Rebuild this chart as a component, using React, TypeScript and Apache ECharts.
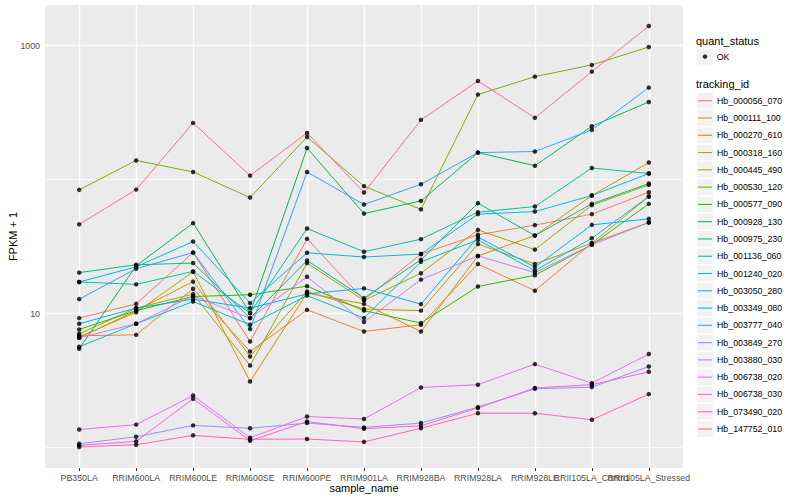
import React, { useEffect, useRef } from "react";
import * as echarts from "echarts";

const categories = [
  "PB350LA", "RRIM600LA", "RRIM600LE", "RRIM600SE", "RRIM600PE", "RRIM901LA",
  "RRIM928BA", "RRIM928LA", "RRIM928LE", "RRII105LA_Control", "RRII105LA_Stressed",
];

const trackingIds = [
  "Hb_000056_070", "Hb_000111_100", "Hb_000270_610", "Hb_000318_160", "Hb_000445_490",
  "Hb_000530_120", "Hb_000577_090", "Hb_000928_130", "Hb_000975_230", "Hb_001136_060",
  "Hb_001240_020", "Hb_003050_280", "Hb_003349_080", "Hb_003777_040", "Hb_003849_270",
  "Hb_003880_030", "Hb_006738_020", "Hb_006738_030", "Hb_073490_020", "Hb_147752_010",
];

const lineColors = [
  "#F8766D", "#EA8331", "#D89000", "#C09B00", "#A3A500", "#7CAE00", "#39B600",
  "#00BB4E", "#00BF7D", "#00C1A3", "#00BFC4", "#00BAE0", "#00B0F6", "#35A2FF",
  "#9590FF", "#C77CFF", "#E76BF3", "#FA62DB", "#FF62BC", "#FF6C91",
];

// FPKM + 1 per sample (same order as categories)
const hb_000056_070 = [9.24, 11.8, 28.5, 6.18, 36.1, 12.65, 27.8, 38.7, 45.7, 55.2, 80.5];
const hb_000111_100 = [6.82, 6.93, 15.3, 5.2, 10.65, 7.34, 8.24, 23.4, 14.8, 33.5, 74.7];
const hb_000270_610 = [6.7, 10.2, 20.5, 3.11, 14.2, 11.8, 7.34, 26.9, 38.2, 76.0, 134];
const hb_000318_160 = [6.59, 10.5, 17.3, 4.78, 14.6, 10.8, 10.5, 33.0, 23.4, 33.5, 47.8];
const hb_000445_490 = [7.06, 10.97, 13.96, 4.09, 23.8, 12.5, 20.0, 42.1, 30.0, 64.4, 91.3];
const hb_000530_120 = [83.8, 139, 114, 73.4, 208, 89.3, 59.9, 431, 587, 718, 977];
const hb_000577_090 = [7.6, 10.5, 13.4, 13.8, 16.0, 10.5, 8.48, 15.9, 19.3, 32.6, 65.9];
const hb_000928_130 = [5.45, 22.7, 47.3, 10.07, 172, 55.7, 69.3, 159, 127, 250, 380];
const hb_000975_230 = [20.2, 23.1, 23.8, 9.24, 24.9, 13.03, 25.2, 66.7, 38.2, 65.9, 93.4];
const hb_001136_060 = [17.2, 16.5, 20.6, 10.07, 43.1, 28.9, 35.9, 57.1, 62.9, 122, 111];
const hb_001240_020 = [5.64, 8.38, 12.3, 8.24, 13.6, 9.24, 24.3, 35.5, 20.9, 36.5, 74.7];
const hb_003050_280 = [17.2, 22.3, 34.5, 11.96, 28.4, 26.4, 27.8, 55.2, 57.7, 76.0, 111];
const hb_003349_080 = [8.38, 10.97, 12.8, 10.97, 14.0, 15.4, 11.75, 37.2, 22.2, 45.9, 50.9];
const hb_003777_040 = [12.8, 21.6, 28.5, 7.65, 114, 65.1, 92.4, 159, 162, 235, 486];
const hb_003849_270 = [1.065, 1.2, 1.46, 1.39, 1.52, 1.41, 1.52, 2.0, 2.74, 2.82, 4.02];
const hb_003880_030 = [6.59, 8.38, 13.55, 9.24, 18.8, 8.63, 17.9, 26.9, 20.2, 32.6, 47.8];
const hb_006738_020 = [1.36, 1.48, 2.44, 1.18, 1.7, 1.63, 2.8, 2.94, 4.19, 3.02, 4.98];
const hb_006738_030 = [1.035, 1.11, 2.31, 1.12, 1.56, 1.38, 1.45, 1.97, 2.78, 2.94, 3.67];
const hb_073490_020 = [1.007, 1.047, 1.23, 1.15, 1.155, 1.1, 1.39, 1.8, 1.8, 1.61, 2.5];
const hb_147752_010 = [46.3, 84.2, 265, 107, 223, 80.0, 279, 545, 289, 640, 1403];

const seriesValues = [
  hb_000056_070, hb_000111_100, hb_000270_610, hb_000318_160, hb_000445_490,
  hb_000530_120, hb_000577_090, hb_000928_130, hb_000975_230, hb_001136_060,
  hb_001240_020, hb_003050_280, hb_003349_080, hb_003777_040, hb_003849_270,
  hb_003880_030, hb_006738_020, hb_006738_030, hb_073490_020, hb_147752_010,
];

const yMajorTicks = [10, 1000];
const yMinorTicks = [1, 100];
const yMin = 0.702;
const yMax = 2012;

export default function App() {
  const ref = useRef<HTMLDivElement>(null);

  useEffect(() => {
    document.body.style.margin = "0";
    const chart = echarts.init(ref.current as HTMLDivElement, null, { renderer: "svg" });
    const font = "Liberation Sans, Arial, Helvetica, sans-serif";
    const catIdx = categories.map((_, i) => i);
    // empty end labels keep the overlapping last two category labels both visible
    const xLabelValues = [-0.6, ...catIdx, 10.6];

    const lineSeries = trackingIds.map((id, k) => ({
      type: "line",
      name: id,
      color: lineColors[k],
      data: seriesValues[k].map((v, i) => [i, v]),
      showSymbol: false,
      symbol: "none",
      lineStyle: { width: 1, color: lineColors[k] },
      z: 2,
      silent: true,
    }));

    const pointData: number[][] = [];
    seriesValues.forEach((vals) => vals.forEach((v, i) => pointData.push([i, v])));

    const pitch = 17.28;
    const keyRects: any[] = [
      {
        type: "rect",
        z: 0,
        shape: { x: 697.2, y: 48.9, width: 15.6, height: 15.6 },
        style: { fill: "#F2F2F2" },
      },
      ...trackingIds.map((_, i) => ({
        type: "rect",
        z: 0,
        shape: { x: 697.2, y: 92.9 + i * pitch, width: 15.6, height: 15.6 },
        style: { fill: "#F2F2F2" },
      })),
      {
        type: "text",
        z: 1,
        x: 696,
        y: 40.7,
        style: { text: "quant_status", fill: "#000", font: `11px ${font}`, verticalAlign: "middle", textVerticalAlign: "middle" },
      },
      {
        type: "text",
        z: 1,
        x: 696,
        y: 84,
        style: { text: "tracking_id", fill: "#000", font: `11px ${font}`, verticalAlign: "middle", textVerticalAlign: "middle" },
      },
    ];

    chart.setOption({
      animation: false,
      backgroundColor: "#FFFFFF",
      textStyle: { fontFamily: font },
      grid: {
        left: 45,
        right: 117,
        top: 5,
        bottom: 32,
        containLabel: false,
        outerBoundsMode: "none",
        show: true,
        backgroundColor: "#EBEBEB",
        borderWidth: 0,
      },
      xAxis: {
        type: "value",
        min: -0.6,
        max: 10.6,
        axisLine: { show: false },
        axisTick: { show: true, customValues: catIdx, length: 3, lineStyle: { color: "#333333", width: 1 } },
        axisLabel: {
          customValues: xLabelValues,
          formatter: (v: number) => (Number.isInteger(v) ? categories[v] : ""),
          color: "#4D4D4D",
          fontSize: 8.8,
          margin: 5,
          fontFamily: font,
          hideOverlap: false,
        },
        splitLine: { show: true, lineStyle: { color: "#FFFFFF", width: 1.4 } },
        name: "sample_name",
        nameLocation: "middle",
        nameGap: 14.5,
        nameMoveOverlap: false,
        nameTextStyle: { color: "#000", fontSize: 11, fontFamily: font },
      },
      yAxis: [
        {
          type: "log",
          logBase: 10,
          min: yMin,
          max: yMax,
          axisLine: { show: false },
          axisTick: { show: false, customValues: yMajorTicks },
          axisLabel: {
            customValues: yMajorTicks,
            formatter: (v: number) => String(Math.round(v)),
            color: "#4D4D4D",
            fontSize: 8.8,
            margin: 5,
            fontFamily: font,
          },
          splitLine: { show: true, lineStyle: { color: "#FFFFFF", width: 1.4 } },
          name: "FPKM + 1",
          nameLocation: "middle",
          nameGap: 27,
          nameMoveOverlap: false,
          nameTextStyle: { color: "#000", fontSize: 11, fontFamily: font },
        },
        {
          type: "log",
          logBase: 10,
          min: yMin,
          max: yMax,
          position: "left",
          alignTicks: false,
          axisLine: { show: false },
          axisTick: { show: false, customValues: yMinorTicks },
          axisLabel: { show: false },
          splitLine: { show: true, lineStyle: { color: "#FFFFFF", width: 0.7 } },
        },
      ],
      legend: [
        {
          orient: "vertical",
          left: 702.75,
          top: 48,
          padding: 0,
          itemGap: 0,
          itemWidth: 4.5,
          itemHeight: 4.5,
          icon: "circle",
          selectedMode: false,
          z: 10,
          data: ["OK"],
          textStyle: { fontSize: 8.8, color: "#000", fontFamily: font, lineHeight: 17.28, padding: [0, 0, 0, 4.5] },
        },
        {
          orient: "vertical",
          left: 698,
          top: 92.06,
          padding: 0,
          itemGap: 0,
          itemWidth: 14,
          itemHeight: 1.1,
          icon: "rect",
          selectedMode: false,
          z: 10,
          data: trackingIds.map((id, k) => ({ name: id, itemStyle: { color: lineColors[k] } })),
          textStyle: { fontSize: 8.8, color: "#000", fontFamily: font, lineHeight: 17.28 },
        },
      ],
      graphic: keyRects,
      series: [
        ...lineSeries,
        {
          type: "scatter",
          name: "OK",
          data: pointData,
          symbol: "circle",
          symbolSize: 4.5,
          itemStyle: { color: "#000000" },
          z: 5,
          silent: true,
        },
      ],
    });

    return () => chart.dispose();
  }, []);

  return <div ref={ref} style={{ width: 800, height: 500 }} />;
}
